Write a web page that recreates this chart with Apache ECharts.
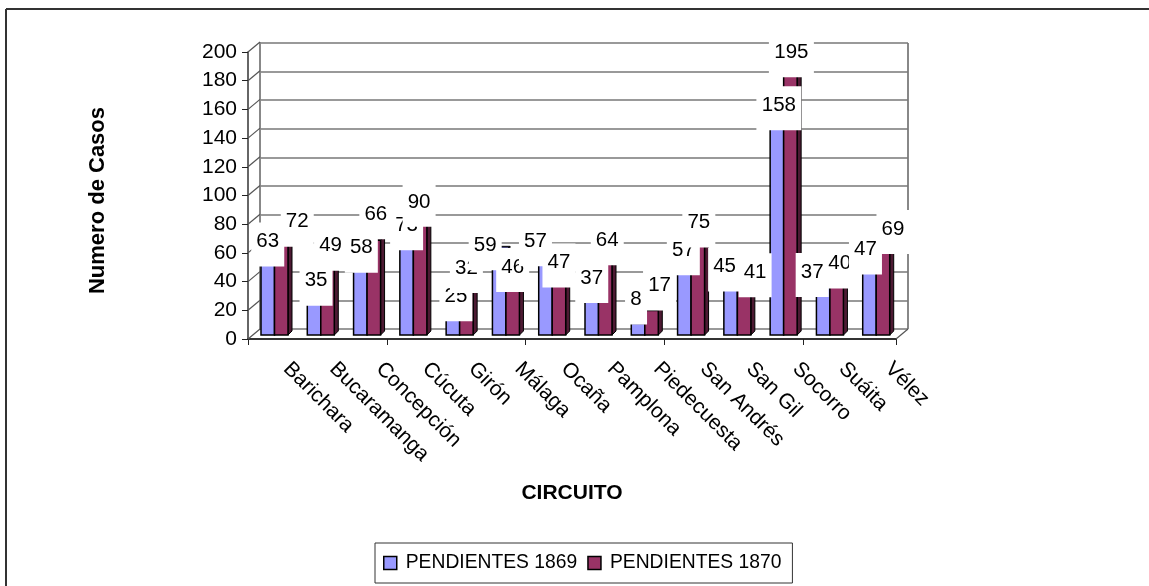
<!DOCTYPE html>
<html><head><meta charset="utf-8">
<style>html,body{margin:0;padding:0;background:#fff}#c{width:1149px;height:586px}</style>
<script src="https://cdn.jsdelivr.net/npm/echarts@6/dist/echarts.min.js"></script>
</head><body><div id="c"></div>
<script>
const categories = ['Barichara','Bucaramanga','Concepción','Cúcuta','Girón','Málaga','Ocaña','Pamplona','Piedecuesta','San Andrés','San Gil','Socorro','Suáita','Vélez'];
const pendientes1869 = [63,35,58,73,25,59,57,37,8,57,45,158,37,47];
const pendientes1870 = [72,49,66,90,32,46,47,64,17,75,41,195,40,69];
const yTicks = [0,20,40,60,80,100,120,140,160,180,200];
// Label placement, in pixels from the top of each column (the source tool scattered its labels).
const labelShift1869 = [[0,-3],[2,-4],[1,-4],[0,-5],[3,-3],[-14,-5],[-10,-12],[0,-4],[-2,-24],[-1,-3],[-6,-4],[2,-3],[-11,-10],[-4,-18]];
const labelShift1870 = [[16,-10],[3,-19],[2,-26],[-1,-4],[0,-21],[0,-2],[0,-5],[2,-3],[8,-25],[1,-5],[11,-4],[1,-3],[3,-14],[10,-7]];

const C1='#9999FF', C2='#993366', SIDE1='#4d4d80', SIDE2='#4d1a33', EDGE='#000';
const FONT='"Liberation Sans",Arial,sans-serif';
const DX=4, DY=-4, BW=13.5, LEAD=13;

function faces(x,yTop,yBase,w,front,side,z){
  return [
   {type:'polygon',z2:z,shape:{points:[[x+w,yTop],[x+w+DX,yTop+DY],[x+w+DX,yBase+DY],[x+w,yBase]]},style:{fill:side,stroke:EDGE,lineWidth:1}},
   {type:'polygon',z2:z,shape:{points:[[x,yTop],[x+DX,yTop+DY],[x+w+DX,yTop+DY],[x+w,yTop]]},style:{fill:side,stroke:EDGE,lineWidth:1}},
   {type:'rect',z2:z,shape:{x:x,y:yTop,width:w,height:yBase-yTop},style:{fill:front,stroke:EDGE,lineWidth:1.5}}
  ];
}
function barItem(params,api){
  const i=api.value(0), v1=api.value(1), v2=api.value(2);
  const left=api.coord([i,0])[0]-api.size([1,0])[0]/2;
  const y0=api.coord([i,0])[1];
  const base=y0-4, x=left+LEAD;
  const top1=api.coord([i,v1])[1]-4, top2=api.coord([i,v2])[1]-4;
  return {type:'group',children:[...faces(x,top1,base,BW,C1,SIDE1,1),...faces(x+BW,top2,base,BW,C2,SIDE2,2)]};
}
function labelItem(params,api){
  const i=api.value(0), v=api.value(1), s=api.value(2), dx=api.value(3), dy=api.value(4);
  const p=api.coord([i,v]);
  const left=api.coord([i,0])[0]-api.size([1,0])[0]/2;
  const cx=left+LEAD+BW*(s+0.5)+dx, cy=p[1]-4+dy;
  const txt=String(v);
  const hw=txt.length===3?22.5:(txt.length===2?16.5:11);
  return {type:'group',children:[
    {type:'rect',z2:0,shape:{x:cx-hw,y:cy-19,width:hw*2,height:44},style:{fill:'#fff'}},
    {type:'text',z2:1,style:{x:cx,y:cy,text:txt,fill:'#000',font:'20.5px '+FONT,align:'center',verticalAlign:'middle'}}
  ]};
}
function wallItem(params,api){
  const v=api.value(0), p=api.coord([0,v]);
  const a=api.coord([0,0]), size=api.size([1,0])[0];
  const x0=a[0]-size/2;
  return {type:'line',shape:{x1:x0,y1:p[1],x2:x0+12,y2:p[1]-10},style:{stroke:'#555',lineWidth:1.2}};
}
function floorItem(params,api){
  const a=api.coord([categories.length-1,0]), size=api.size([1,0])[0];
  const x0=a[0]+size/2;
  return {type:'line',shape:{x1:x0,y1:a[1],x2:x0+12,y2:a[1]-10},style:{stroke:'#555',lineWidth:1.2}};
}
const labelRows=[];
categories.forEach((c,i)=>{
  labelRows.push([i,pendientes1869[i],0,labelShift1869[i][0],labelShift1869[i][1]]);
  labelRows.push([i,pendientes1870[i],1,labelShift1870[i][0],labelShift1870[i][1]]);
});
const chart=echarts.init(document.getElementById('c'),null,{renderer:'canvas'});
chart.setOption({
  animation:false,
  backgroundColor:'#fff',
  textStyle:{fontFamily:FONT},
  grid:[
    {left:248,right:253,top:52,bottom:247},
    {left:260,right:241,top:43,bottom:257,show:false}
  ],
  xAxis:[
    {type:'category',gridIndex:0,data:categories,boundaryGap:true,
     axisLine:{lineStyle:{color:'#333',width:2}},
     axisTick:{show:true,alignWithLabel:false,length:6,lineStyle:{color:'#222',width:1}},
     axisLabel:{show:false},
     name:'CIRCUITO',nameLocation:'middle',nameGap:144,
     nameTextStyle:{fontWeight:'bold',fontSize:21,color:'#000',fontFamily:FONT}},
    {type:'category',gridIndex:1,data:categories,boundaryGap:true,
     axisLine:{show:false},axisTick:{show:false},
     axisLabel:{interval:0,rotate:-45,color:'#000',fontSize:21,margin:33,padding:[0,0,0,5],fontFamily:FONT}}
  ],
  yAxis:[
    {type:'value',gridIndex:0,min:0,max:200,interval:20,splitLine:{show:false},
     axisLine:{show:true,lineStyle:{color:'#333',width:1.5}},
     axisTick:{show:true,length:6,lineStyle:{color:'#222'}},
     axisLabel:{color:'#000',fontSize:21,margin:11,fontFamily:FONT},
     name:'Numero de Casos',nameLocation:'middle',nameGap:139,nameRotate:90,
     nameTextStyle:{fontWeight:'bold',fontSize:22,color:'#000',fontFamily:FONT,padding:[0,10,0,0]}},
    {type:'value',gridIndex:1,min:0,max:200,interval:20,
     axisLine:{show:true,lineStyle:{color:'#888',width:2}},axisTick:{show:false},axisLabel:{show:false},
     splitLine:{show:true,lineStyle:{color:'#777',width:1.6}}}
  ],
  legend:{
    left:375,top:543,padding:[10.5,11,10.5,8],itemWidth:13,itemHeight:13,itemGap:10,
    backgroundColor:'#fff',borderColor:'#333',borderWidth:1,
    textStyle:{fontSize:19.3,color:'#000',fontFamily:FONT,padding:[0,0,0,4]},
    data:[{name:'PENDIENTES 1869',icon:'rect',itemStyle:{color:C1,borderColor:'#000',borderWidth:1.5}},
          {name:'PENDIENTES 1870',icon:'rect',itemStyle:{color:C2,borderColor:'#000',borderWidth:1.5}}]
  },
  graphic:[
    {type:'line',silent:true,z:-1,shape:{x1:6,y1:9,x2:1149,y2:9},style:{stroke:'#333',lineWidth:2}},
    {type:'line',silent:true,z:-1,shape:{x1:6,y1:9,x2:6,y2:586},style:{stroke:'#333',lineWidth:2}},
    {type:'line',silent:true,z:-1,shape:{x1:908,y1:43,x2:908,y2:329},style:{stroke:'#888',lineWidth:2}}
  ],
  series:[
    {type:'custom',name:'wall',xAxisIndex:0,yAxisIndex:0,z:1,silent:true,renderItem:wallItem,data:yTicks.map(v=>[v]),encode:{y:0}},
    {type:'custom',name:'floor',xAxisIndex:0,yAxisIndex:0,z:1,silent:true,renderItem:floorItem,data:[[0]],encode:{y:0}},
    {type:'custom',name:'PENDIENTES 1869',itemStyle:{color:C1},xAxisIndex:0,yAxisIndex:0,z:3,renderItem:barItem,
     data:categories.map((c,i)=>[i,pendientes1869[i],pendientes1870[i]]),encode:{x:0,y:[1,2]}},
    {type:'custom',name:'PENDIENTES 1870',itemStyle:{color:C2},xAxisIndex:0,yAxisIndex:0,z:3,renderItem:()=>null,data:[]},
    ...labelRows.map((r,k)=>({type:'custom',name:'label'+k,xAxisIndex:0,yAxisIndex:0,z:5+k,silent:true,renderItem:labelItem,data:[r],encode:{x:0,y:1}}))
  ]
});
</script></body></html>
